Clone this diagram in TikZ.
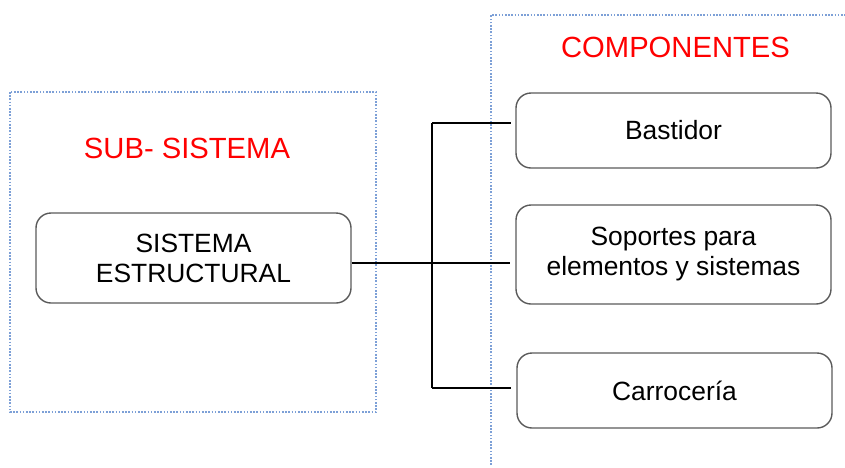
\documentclass[tikz,border=0pt]{standalone}
\usepackage{fontspec}
\setmainfont{Liberation Sans}
\usetikzlibrary{positioning, calc}
\definecolor{cornicecol}{RGB}{125,160,215}
\definecolor{bordo}{RGB}{90,90,90}
\begin{document}
\begin{tikzpicture}[x=0.5pt, y=-0.5pt,
    blocco/.style={draw=bordo, line width=0.7pt, rounded corners=7.5pt, minimum width=157.5pt, align=center, inner sep=0pt, font=\fontsize{13.2}{15}\selectfont},
    titolo/.style={text=red, font=\fontsize{14.6}{17}\selectfont},
    cornice/.style={draw=cornicecol, line width=0.55pt, dash pattern=on 0.8pt off 0.8pt},
    linea/.style={line width=1.05pt}]
    \useasboundingbox (0,0) rectangle (845,467);
    %disegno cornici
    \draw[cornice] (10,92) rectangle (376,412);
    \draw[cornice] (491,465) -- (491,15) -- (845,15);
    %titoli
    \node[titolo] (tsub) at (187,148) {SUB- SISTEMA};
    \node[titolo] (tcomp) at (675.5,47) {COMPONENTES};
    %disegno blocchi
    \node[blocco, minimum height=45pt] (sis) at (193.5,258) {SISTEMA\\ESTRUCTURAL};
    \node[blocco, minimum height=37.5pt] (bas) at (673.5,130.5) {Bastidor};
    \node[blocco, minimum height=49.5pt] (sop) at (673.5,254.5) {Soportes para\\elementos y sistemas};
    \node[blocco, minimum height=37.5pt] (car) at (674.5,390.5) {Carrocería};
    %disegno collegamenti
    \coordinate (jtop) at (432,123);
    \coordinate (jmid) at (432,263);
    \coordinate (jbot) at (432,388);
    \draw[linea] (sis.east |- jmid) -- (jmid);
    \draw[linea] (jtop) -- (jbot);
    \draw[linea, shorten >=2pt] (jtop) -- (jtop -| bas.west);
    \draw[linea, shorten >=2.5pt] (jmid) -- (jmid -| sop.west);
    \draw[linea, shorten >=2.5pt] (jbot) -- (jbot -| car.west);
\end{tikzpicture}
\end{document}
